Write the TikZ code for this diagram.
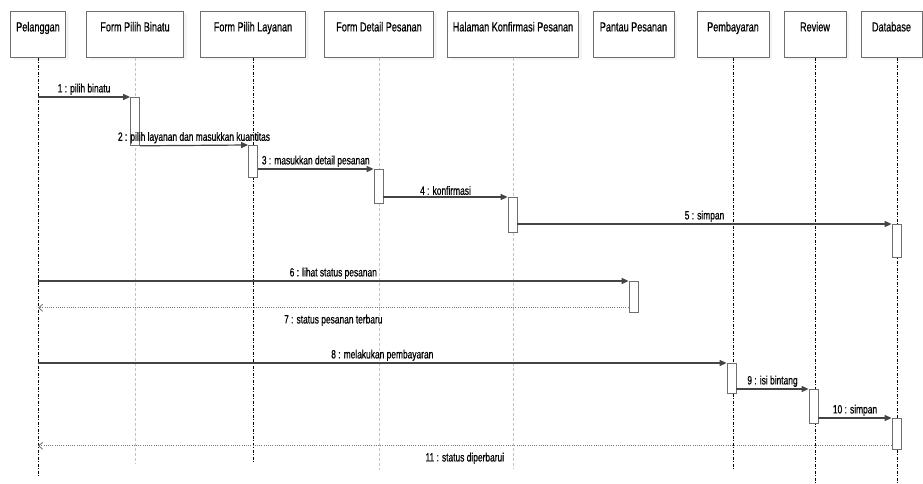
\documentclass[tikz,border=0pt]{standalone}
\usepackage{fontspec}
\newfontfamily\seqfont{Liberation Sans}[FakeStretch=0.7, FakeBold=0.6]
\usepackage{xcolor}
\definecolor{lineGray}  {HTML}{444444}
\definecolor{boxEdge}   {HTML}{6E6E6E}
\definecolor{faintLine} {HTML}{C4C4C4}
\definecolor{retGray}   {HTML}{7A7A7A}
\usetikzlibrary{arrows.meta, calc, shadows}

\begin{document}
\begin{tikzpicture}[x=1pt, y=-1pt,
    head/.style={draw=boxEdge, fill=white, line width=0.8pt, anchor=north,
        minimum height=46pt, inner ysep=0pt, text height=20pt, text depth=26pt,
        font=\seqfont\fontsize{13}{15}\selectfont,
        drop shadow={shadow xshift=3pt, shadow yshift=-3pt, fill=black!8}},
    act/.style={draw=boxEdge, fill=white, line width=0.8pt, anchor=north,
        minimum width=9pt, inner sep=0pt},
    lifeDark/.style={draw=black, line width=0.6pt,
        dash pattern=on 3pt off 1.5pt on 1pt off 1.5pt},
    lifeLight/.style={draw=faintLine, line width=0.5pt, dash pattern=on 3pt off 2pt},
    msg/.style={draw=lineGray, line width=1.2pt, -{Triangle[length=7pt, width=6pt]}},
    ret/.style={draw=retGray, line width=0.9pt, dash pattern=on 1pt off 1.2pt,
        -{Straight Barb[length=4pt, width=7pt]}},
    lbl/.style={font=\seqfont\fontsize{12}{13}\selectfont, inner sep=1.5pt}]
    \useasboundingbox (0,0) rectangle (923,484);

    % Objects along the top.
    \node[head, minimum width=55pt]  (pel)     at (38,11)    {Pelanggan};
    \node[head, minimum width=97pt]  (binatu)  at (135,11)   {Form Pilih Binatu};
    \node[head, minimum width=105pt] (layanan) at (253,11)   {Form Pilih Layanan};
    \node[head, minimum width=109pt] (detail)  at (379,11)   {Form Detail Pesanan};
    \node[head, minimum width=131pt] (konfirm) at (513,11)   {Halaman Konfirmasi Pesanan};
    \node[head, minimum width=81pt]  (pantau)  at (633.5,11) {Pantau Pesanan};
    \node[head, minimum width=72pt]  (bayar)   at (733,11)   {Pembayaran};
    \node[head, minimum width=62pt]  (review)  at (815,11)   {Review};
    \node[head, minimum width=61pt]  (db)      at (891.5,11) {Database};

    % Lifelines.
    \draw[lifeDark]  (pel.south)     -- (pel.south |- 0,477);
    \draw[lifeLight] (binatu.south)  -- (binatu.south |- 0,463);
    \draw[lifeDark]  (layanan.south) -- (layanan.south |- 0,463);
    \draw[lifeLight] (detail.south)  -- (detail.south |- 0,470);
    \draw[lifeLight] (konfirm.south) -- (konfirm.south |- 0,468);
    \draw[lifeDark]  (bayar.south)   -- (bayar.south |- 0,470);
    \draw[lifeDark]  (review.south)  -- (review.south |- 0,483);
    \draw[lifeDark]  ([xshift=5.5pt]db.south) -- ++(0,426);

    % Activation bars.
    \node[act, minimum height=48pt] (a1)  at (135,97)    {};
    \node[act, minimum height=32pt] (a2)  at (253,145)   {};
    \node[act, minimum height=34pt] (a3)  at (378.5,169) {};
    \node[act, minimum height=35pt] (a4)  at (512.5,197) {};
    \node[act, minimum height=33pt] (a5)  at (896.5,224) {};
    \node[act, minimum height=31pt] (a6)  at (633.5,281) {};
    \node[act, minimum height=30pt] (a8)  at (731.5,363) {};
    \node[act, minimum height=34pt] (a9)  at (813.5,389) {};
    \node[act, minimum height=31pt] (a10) at (896.5,418) {};

    % Messages.
    \draw[msg] (pel |- a1.north) -- (a1.north west)
        node[lbl, midway, above] {1 : pilih binatu};
    \draw[msg] (a1.south east) -- (a2.north west)
        node[lbl, midway, above] {2 : pilih layanan dan masukkan kuantitas};
    \draw[msg] (a2.east |- a3.north) -- (a3.north west)
        node[lbl, midway, above] {3 : masukkan detail pesanan};
    \draw[msg] (a3.east |- a4.north) -- (a4.north west)
        node[lbl, midway, above] {4 : konfirmasi};
    \draw[msg] (a4.east |- a5.north) -- (a5.north west)
        node[lbl, midway, above] {5 : simpan};
    \draw[msg] (pel |- a6.north) -- (a6.north west)
        node[lbl, midway, above] {6 : lihat status pesanan};
    \coordinate (r7) at ([yshift=5pt]a6.south west);
    \draw[ret] (r7) -- (pel |- r7)
        node[lbl, midway, below=5pt] {7 : status pesanan terbaru};
    \draw[msg] (pel |- a8.north) -- (a8.north west)
        node[lbl, midway, above] {8 : melakukan pembayaran};
    \draw[msg] (a8.east |- a9.north) -- (a9.north west)
        node[lbl, midway, above] {9 : isi bintang};
    \draw[msg] (a9.east |- a10.north) -- (a10.north west)
        node[lbl, midway, above] {10 : simpan};
    \coordinate (r11) at ([yshift=4pt]a10.south west);
    \draw[ret] (r11) -- (pel |- r11)
        node[lbl, midway, below=5pt] {11 : status diperbarui};
\end{tikzpicture}
\end{document}
